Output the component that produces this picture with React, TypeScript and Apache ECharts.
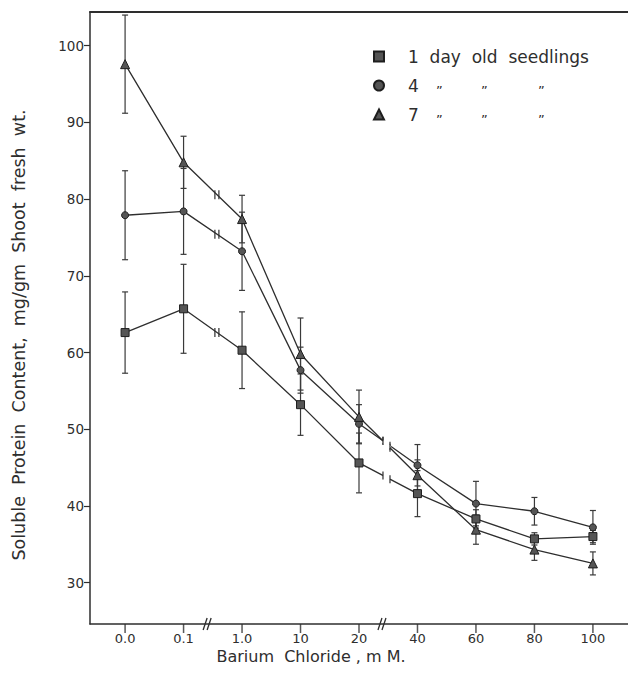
import React, { useEffect, useRef } from "react";
import * as echarts from "echarts";

const categories = ["0.0", "0.1", "1.0", "10", "20", "40", "60", "80", "100"];
const day1 = [62.6, 65.7, 60.3, 53.2, 45.6, 41.6, 38.3, 35.7, 36.0];
const day4 = [77.9, 78.4, 73.2, 57.7, 50.7, 45.3, 40.3, 39.3, 37.2];
const day7 = [97.6, 84.8, 77.4, 59.8, 51.6, 44.0, 36.9, 34.3, 32.5];
const err1 = [5.3, 5.8, 5.0, 4.0, 3.9, 3.0, 1.2, 0.8, 0.8];
const err4 = [5.8, 5.6, 5.1, 3.0, 2.5, 2.7, 2.9, 1.8, 2.2];
const err7 = [6.4, 3.4, 3.1, 4.7, 3.5, 2.0, 1.9, 1.4, 1.5];
const yTicks = [30, 40, 50, 60, 70, 80, 90, 100];
const seriesNames = ["1 day old seedlings", "4", "7"];

const FONT = "DejaVu Sans";
const INK = "#2e2e2e";
const Y_MIN = 24.6;
const Y_MAX = 104.4;
const X_MIN = -0.6;
const X_MAX = 8.6;

export default function App() {
  const ref = useRef<HTMLDivElement>(null);

  useEffect(() => {
    if (!ref.current) return;
    const chart = echarts.init(ref.current, null, { renderer: "svg" });
    const all = [day1, day4, day7];
    const errs = [err1, err4, err7];
    const symbols = ["rect", "circle", "triangle"];
    const sizes = [8, 7, 9];
    const xIdx = categories.map((_, i) => i);

    const lineSeries = all.map((vals, k) => ({
      name: seriesNames[k],
      type: "line",
      data: vals.map((v, i) => [i, v]),
      symbol: symbols[k],
      symbolSize: sizes[k],
      showSymbol: true,
      z: 4,
      itemStyle: { color: "#555", borderColor: "#1e1e1e", borderWidth: 1 },
      lineStyle: { color: INK, width: 1.3 },
    }));

    const errSeries = all.map((vals, k) => ({
      type: "custom",
      z: 3,
      silent: true,
      data: vals.map((v, i) => [i, v - errs[k][i], v + errs[k][i]]),
      encode: { x: 0, y: [1, 2] },
      renderItem: (params: any, api: any) => {
        const x = api.value(0);
        const lo = api.value(1);
        const hi = api.value(2);
        const a = api.coord([x, hi]);
        const b = api.coord([x, lo]);
        const st = { stroke: "#3a3a3a", lineWidth: 1.2 };
        return {
          type: "group",
          children: [
            { type: "line", shape: { x1: a[0], y1: a[1], x2: b[0], y2: b[1] }, style: st },
            { type: "line", shape: { x1: a[0] - 3, y1: a[1], x2: a[0] + 3, y2: a[1] }, style: st },
            { type: "line", shape: { x1: b[0] - 3, y1: b[1], x2: b[0] + 3, y2: b[1] }, style: st },
          ],
        };
      },
    }));

    // break marks on the lines
    const lineBreaks = {
      type: "custom",
      z: 5,
      silent: true,
      data: [[0], [1], [2]],
      renderItem: (params: any, api: any) => {
        const vals = all[params.dataIndex];
        const lerp = (i: number, t: number) => {
          const a = api.coord([i, vals[i]]);
          const b = api.coord([i + 1, vals[i + 1]]);
          return [a[0] + (b[0] - a[0]) * t, a[1] + (b[1] - a[1]) * t];
        };
        const st = { stroke: INK, lineWidth: 1.2 };
        const p = lerp(1, 0.57);
        const q1 = lerp(4, 0.41);
        const q2 = lerp(4, 0.53);
        return {
          type: "group",
          children: [
            { type: "line", shape: { x1: p[0] - 2, y1: p[1] - 4.5, x2: p[0] - 2, y2: p[1] + 4.5 }, style: st },
            { type: "line", shape: { x1: p[0] + 2, y1: p[1] - 4.5, x2: p[0] + 2, y2: p[1] + 4.5 }, style: st },
            { type: "line", shape: { x1: q1[0], y1: q1[1], x2: q2[0], y2: q2[1] }, style: { stroke: "#fff", lineWidth: 4 } },
            { type: "line", shape: { x1: q1[0], y1: q1[1] - 4, x2: q1[0], y2: q1[1] + 4 }, style: st },
            { type: "line", shape: { x1: q2[0], y1: q2[1] - 4, x2: q2[0], y2: q2[1] + 4 }, style: st },
          ],
        };
      },
    };

    // break marks on the x axis
    const axisBreaks = {
      type: "custom",
      z: 6,
      silent: true,
      clip: false,
      data: [[1.42, Y_MIN], [4.41, Y_MIN]],
      renderItem: (params: any, api: any) => {
        const p = api.coord([api.value(0), api.value(1)]);
        const st = { stroke: INK, lineWidth: 1.3 };
        return {
          type: "group",
          children: [
            { type: "line", shape: { x1: p[0] - 5, y1: p[1] + 6, x2: p[0] - 1, y2: p[1] - 6 }, style: st },
            { type: "line", shape: { x1: p[0] - 1, y1: p[1] + 6, x2: p[0] + 3, y2: p[1] - 6 }, style: st },
          ],
        };
      },
    };

    // x tick marks as thin rectangles hanging below the axis line
    const xTickMarks = {
      type: "scatter",
      z: 7,
      silent: true,
      clip: false,
      symbol: "rect",
      symbolSize: [1.5, 9],
      symbolOffset: [0, 4.5],
      itemStyle: { color: INK },
      data: xIdx.map((i) => [i, Y_MIN]),
    };

    const option: any = {
      animation: false,
      backgroundColor: "#ffffff",
      grid: { left: 90, top: 12, right: 0, bottom: 62 },
      xAxis: [
        {
          type: "value",
          min: X_MIN,
          max: X_MAX,
          splitLine: { show: false },
          axisLine: { show: true, onZero: false, lineStyle: { color: INK, width: 1.5 } },
          axisTick: { show: false },
          axisLabel: {
            customValues: xIdx,
            formatter: (v: number) => categories[Math.round(v)] ?? "",
            fontFamily: FONT,
            fontSize: 13,
            color: INK,
            margin: 8,
          },
        },
        {
          type: "value",
          position: "top",
          min: X_MIN,
          max: X_MAX,
          splitLine: { show: false },
          axisLine: { show: true, onZero: false, lineStyle: { color: INK, width: 2 } },
          axisTick: { show: false },
          axisLabel: { show: false },
        },
      ],
      yAxis: {
        type: "value",
        min: Y_MIN,
        max: Y_MAX,
        splitLine: { show: false },
        axisLine: { show: true, onZero: false, lineStyle: { color: INK, width: 1.5 } },
        axisTick: {
          show: true,
          inside: false,
          length: 6,
          customValues: yTicks,
          lineStyle: { color: INK, width: 1.2 },
        },
        axisLabel: {
          customValues: yTicks,
          fontFamily: FONT,
          fontSize: 13.5,
          color: INK,
          margin: 6,
        },
      },
      legend: {
        orient: "vertical",
        left: 368,
        top: 43,
        itemWidth: 10,
        itemHeight: 10,
        itemGap: 12,
        selectedMode: false,
        data: [
          { name: seriesNames[0], icon: "rect" },
          { name: seriesNames[1], icon: "circle" },
          { name: seriesNames[2], icon: "triangle" },
        ],
        formatter: (name: string) =>
          name === seriesNames[0]
            ? "{s| }{t|1  day  old  seedlings}"
            : `{s| }{n|${name}}{d1|„}{d2|„}{d3|„}`,
        textStyle: {
          fontFamily: FONT,
          fontSize: 17,
          color: INK,
          rich: {
            s: { width: 19, fontSize: 17 },
            t: { fontFamily: FONT, fontSize: 17, color: INK },
            n: { width: 28, fontFamily: FONT, fontSize: 17, color: INK },
            d1: { width: 45, fontFamily: FONT, fontSize: 13, color: INK, padding: [0, 0, 4, 0] },
            d2: { width: 57, fontFamily: FONT, fontSize: 13, color: INK, padding: [0, 0, 4, 0] },
            d3: { fontFamily: FONT, fontSize: 13, color: INK, padding: [0, 0, 4, 0] },
          },
        },
      },
      graphic: [
        {
          type: "text",
          x: 19,
          y: 335,
          rotation: Math.PI / 2,
          style: {
            text: "Soluble  Protein  Content,  mg/gm  Shoot  fresh  wt.",
            fontFamily: FONT,
            fontSize: 17.5,
            fill: INK,
            align: "center",
            verticalAlign: "middle",
          },
        },
        {
          type: "text",
          x: 311,
          y: 656,
          style: {
            text: "Barium  Chloride , m M.",
            fontFamily: FONT,
            fontSize: 16,
            fill: INK,
            align: "center",
            verticalAlign: "middle",
          },
        },
      ],
      series: [...errSeries, ...lineSeries, lineBreaks, axisBreaks, xTickMarks],
    };

    chart.setOption(option);
    return () => chart.dispose();
  }, []);

  return (
    <div
      ref={ref}
      style={{ position: "fixed", left: 0, top: 0, width: 628, height: 686 }}
    />
  );
}
